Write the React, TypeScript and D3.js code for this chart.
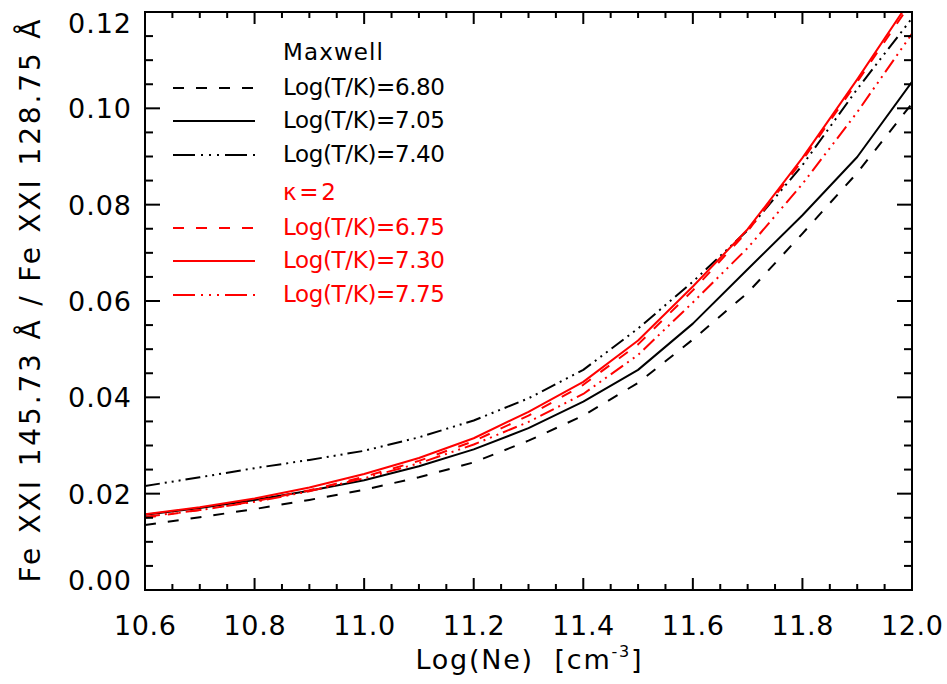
import React from "react";
import * as d3 from "d3";

// ---- data ----
const NE = [10.6, 10.7, 10.8, 10.9, 11.0, 11.1, 11.2, 11.3, 11.4, 11.5, 11.6, 11.7, 11.8, 11.9, 12.0];
const MAXWELL_680 = [0.0135, 0.0151, 0.0168, 0.0187, 0.0208, 0.0234, 0.0265, 0.0310, 0.0362, 0.0430, 0.0520, 0.0617, 0.0740, 0.0866, 0.1010];
const MAXWELL_705 = [0.0156, 0.0170, 0.0187, 0.0206, 0.0228, 0.0257, 0.0292, 0.0336, 0.0391, 0.0457, 0.0553, 0.0666, 0.0778, 0.0899, 0.1055];
const MAXWELL_740 = [0.0216, 0.0234, 0.0253, 0.0270, 0.0289, 0.0317, 0.0352, 0.0398, 0.0457, 0.0543, 0.0640, 0.0747, 0.0882, 0.1040, 0.1187];
const KAPPA2_675 = [0.0150, 0.0166, 0.0184, 0.0207, 0.0235, 0.0268, 0.0309, 0.0362, 0.0426, 0.0510, 0.0622, 0.0745, 0.0892, 0.1055, 0.1222];
const KAPPA2_730 = [0.0157, 0.0172, 0.0190, 0.0213, 0.0241, 0.0274, 0.0315, 0.0370, 0.0432, 0.0518, 0.0630, 0.0749, 0.0897, 0.1060, 0.1230];
const KAPPA2_775 = [0.0152, 0.0166, 0.0183, 0.0205, 0.0232, 0.0263, 0.0302, 0.0349, 0.0407, 0.0488, 0.0597, 0.0710, 0.0843, 0.0992, 0.1155];

const X_TICKS = [10.6, 10.8, 11.0, 11.2, 11.4, 11.6, 11.8, 12.0];
const X_TICK_LABELS = ["10.6", "10.8", "11.0", "11.2", "11.4", "11.6", "11.8", "12.0"];
const Y_TICKS = [0, 0.02, 0.04, 0.06, 0.08, 0.1, 0.12];
const Y_TICK_LABELS = ["0.00", "0.02", "0.04", "0.06", "0.08", "0.10", "0.12"];

const MAXWELL_LABELS = ["Log(T/K)=6.80", "Log(T/K)=7.05", "Log(T/K)=7.40"];
const KAPPA_LABELS = ["Log(T/K)=6.75", "Log(T/K)=7.30", "Log(T/K)=7.75"];

// ---- styles ----
const FONT = "'DejaVu Sans', sans-serif";
const RED = "#ff0000";
const DASH = "11,12";
const DASHDOT = "15,5,2,5,2,5,2,5";
const DASHDOT_LEG = "22,6,2,6,2,6,2,6";

const series = [
  { values: MAXWELL_680, color: "#000", dash: DASH },
  { values: MAXWELL_705, color: "#000", dash: null },
  { values: MAXWELL_740, color: "#000", dash: DASHDOT },
  { values: KAPPA2_675, color: RED, dash: DASH },
  { values: KAPPA2_730, color: RED, dash: null },
  { values: KAPPA2_775, color: RED, dash: DASHDOT },
];

const W = 947;
const H = 684;
const L = 145, R = 912, T = 12, B = 590;

export default function App() {
  const x = d3.scaleLinear().domain([10.6, 12.0]).range([L, R]);
  const y = d3.scaleLinear().domain([0, 0.12]).range([B, T]);
  const line = d3
    .line<number>()
    .x((_, i) => x(NE[i]))
    .y((d) => y(d));

  const xMinor = d3.range(0, 29).map((i) => 10.6 + i * 0.05);
  const yMinor = d3.range(0, 25).map((i) => i * 0.005);

  const legendLineX1 = 173, legendLineX2 = 255, legendTextX = 283;
  const legendRows = [
    { text: "Maxwell", color: "#000", dash: null, base: 60, line: false, tl: 100 },
    { text: MAXWELL_LABELS[0], color: "#000", dash: DASH, base: 95, line: true, tl: 162 },
    { text: MAXWELL_LABELS[1], color: "#000", dash: null, base: 128, line: true, tl: 162 },
    { text: MAXWELL_LABELS[2], color: "#000", dash: DASHDOT_LEG, base: 162, line: true, tl: 162 },
    { text: "κ=2", color: RED, dash: null, base: 200, line: false, tl: 53 },
    { text: KAPPA_LABELS[0], color: RED, dash: DASH, base: 235, line: true, tl: 162 },
    { text: KAPPA_LABELS[1], color: RED, dash: null, base: 268, line: true, tl: 162 },
    { text: KAPPA_LABELS[2], color: RED, dash: DASHDOT_LEG, base: 302, line: true, tl: 162 },
  ];

  return (
    <svg
      width={W}
      height={H}
      viewBox={`0 0 ${W} ${H}`}
      style={{ position: "absolute", left: 0, top: 0, display: "block", background: "#fff" }}
      fontFamily={FONT}
    >
      <defs>
        <clipPath id="plotclip">
          <rect x={L} y={T} width={R - L} height={B - T} />
        </clipPath>
      </defs>
      <rect x={0} y={0} width={W} height={H} fill="#fff" />

      {/* curves */}
      <g clipPath="url(#plotclip)">
        {series.map((s, i) => (
          <path
            key={i}
            d={line(s.values) || ""}
            fill="none"
            stroke={s.color}
            strokeWidth={2}
            strokeDasharray={s.dash || undefined}
            strokeLinejoin="round"
          />
        ))}
      </g>

      {/* frame */}
      <rect x={L} y={T} width={R - L} height={B - T} fill="none" stroke="#000" strokeWidth={2} />

      {/* ticks */}
      <g stroke="#000" strokeWidth={2}>
        {xMinor.map((v, i) => {
          const major = i % 4 === 0;
          const len = major ? 12 : 6;
          const px = x(v);
          return (
            <g key={"xt" + i}>
              <line x1={px} x2={px} y1={B} y2={B - len} />
              <line x1={px} x2={px} y1={T} y2={T + len} />
            </g>
          );
        })}
        {yMinor.map((v, i) => {
          const major = i % 4 === 0;
          const len = major ? 15 : 8;
          const py = y(v);
          return (
            <g key={"yt" + i}>
              <line x1={L} x2={L + len} y1={py} y2={py} />
              <line x1={R} x2={R - len} y1={py} y2={py} />
            </g>
          );
        })}
      </g>

      {/* tick labels */}
      <g fontSize={27} fill="#000">
        {X_TICKS.map((v, i) => (
          <text key={"xl" + i} x={x(v)} y={635} textAnchor="middle" textLength={62} lengthAdjust="spacing">
            {X_TICK_LABELS[i]}
          </text>
        ))}
        {Y_TICKS.map((v, i) => {
          const base = Math.min(B, Math.max(T + 21, y(v) + 10));
          return (
            <text key={"yl" + i} x={131} y={base} textAnchor="end" textLength={63} lengthAdjust="spacing">
              {Y_TICK_LABELS[i]}
            </text>
          );
        })}
      </g>

      {/* axis titles */}
      <text
        x={(L + R) / 2}
        y={669}
        textAnchor="middle"
        fontSize={27}
        fill="#000"
        textLength={226}
        lengthAdjust="spacing"
      >
        {"Log(Ne)\u00a0\u00a0[cm"}
        <tspan fontSize={16} dy={-12}>-3</tspan>
        <tspan dy={12}>]</tspan>
      </text>
      <text
        transform={`translate(40, ${(T + B) / 2}) rotate(-90)`}
        textAnchor="middle"
        fontSize={28}
        fill="#000"
        textLength={563}
        lengthAdjust="spacing"
      >
        Fe XXI 145.73 Å / Fe XXI 128.75 Å
      </text>

      {/* legend */}
      <g>
        {legendRows.map((r, i) => (
          <g key={"lg" + i}>
            {r.line && (
              <line
                x1={legendLineX1}
                x2={legendLineX2}
                y1={r.base - 7}
                y2={r.base - 7}
                stroke={r.color}
                strokeWidth={2}
                strokeDasharray={r.dash || undefined}
              />
            )}
            <text
              x={legendTextX}
              y={r.base}
              fontSize={23}
              fill={r.color}
              textLength={r.tl}
              lengthAdjust="spacing"
            >
              {r.text}
            </text>
          </g>
        ))}
      </g>
    </svg>
  );
}
